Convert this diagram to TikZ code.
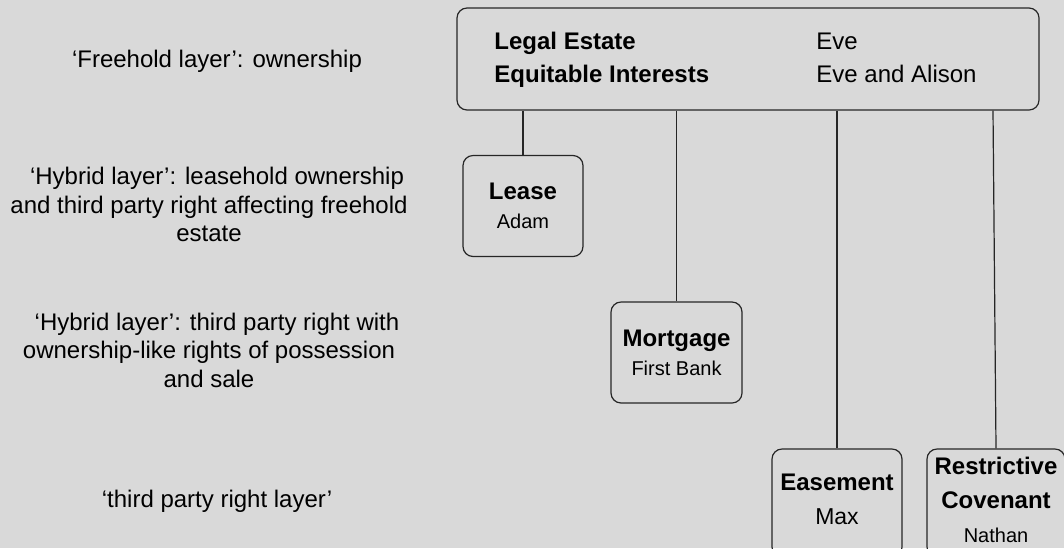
\documentclass[tikz,border=0pt]{standalone}
\usepackage{fontspec}
\setmainfont{Liberation Sans}
\usepackage{tikz}
\usetikzlibrary{positioning}
\definecolor{bggray}{HTML}{D9D9D9}
\definecolor{linegray}{HTML}{262626}
\tikzset{
  estatebox/.style={draw=linegray, line width=0.6pt, rounded corners=5pt, inner sep=0pt,
                    minimum width=291pt, minimum height=51pt, font=\fontsize{12}{16.5}\selectfont},
  rightbox/.style={draw=linegray, line width=0.6pt, rounded corners=5pt, inner sep=0pt,
                   align=center, minimum height=50.5pt},
  upper/.style={font=\fontsize{12}{14.5}\selectfont},
  lower/.style={font=\fontsize{12}{17}\selectfont, minimum height=54pt, text depth=3.5pt},
  layer/.style={align=center, inner sep=0pt, font=\fontsize{12}{14.25}\selectfont},
  link/.style={draw=linegray, line width=0.6pt},
}
\newcommand{\holder}[2][10]{{\fontsize{#1}{14}\selectfont #2}}

\begin{document}
\begin{tikzpicture}[x=0.5pt, y=-0.5pt]
\useasboundingbox (0,0) rectangle (1064,548);
\clip (0,0) rectangle (1064,548);
\fill[bggray] (0,0) rectangle (1064,548);

%Nodes
\node[estatebox] (estate) at (748,59) {\begin{tabular}{@{}p{161pt}@{}l@{\hspace{12.5pt}}}
  \textbf{Legal Estate} & Eve\\
  \textbf{Equitable Interests} & Eve and Alison
\end{tabular}};
\node[rightbox, upper, minimum width=60pt] (lease) at (523,206) {\textbf{Lease}\\ \holder{Adam}};
\node[rightbox, upper, minimum width=65.5pt] (mortgage) at (676.5,352.5) {\textbf{Mortgage}\\ \holder{First Bank}};
\node[rightbox, lower, minimum width=65pt] (easement) at (837,503) {\textbf{Easement}\\ \holder[11.5]{Max}};
\node[rightbox, lower, minimum width=69pt] (covenant) at (996,503) {\textbf{Restrictive}\\ \textbf{Covenant}\\ \holder{Nathan}};

%Layers
\node[layer, anchor=base] (freehold) at (217,67) {‘Freehold layer’: ownership};
\node[layer] (hybridlease) at (209,204.5) {\hspace*{8pt}‘Hybrid layer’: leasehold ownership\\ and third party right affecting freehold\\ estate};
\node[layer] (hybridcharge) at (209,350) {\hspace*{8pt}‘Hybrid layer’: third party right with\\ ownership-like rights of possession\\ and sale};
\node[layer, anchor=base] (thirdparty) at (217,507) {‘third party right layer’};

%Lines
\draw[link] (lease.north) -- (lease.north |- estate.south);
\draw[link] (mortgage.north) -- (mortgage.north |- estate.south);
\draw[link] (easement.north) -- (easement.north |- estate.south);
\draw[link] (covenant.north) -- ([xshift=-1.5pt]covenant.north |- estate.south);
\end{tikzpicture}
\end{document}
